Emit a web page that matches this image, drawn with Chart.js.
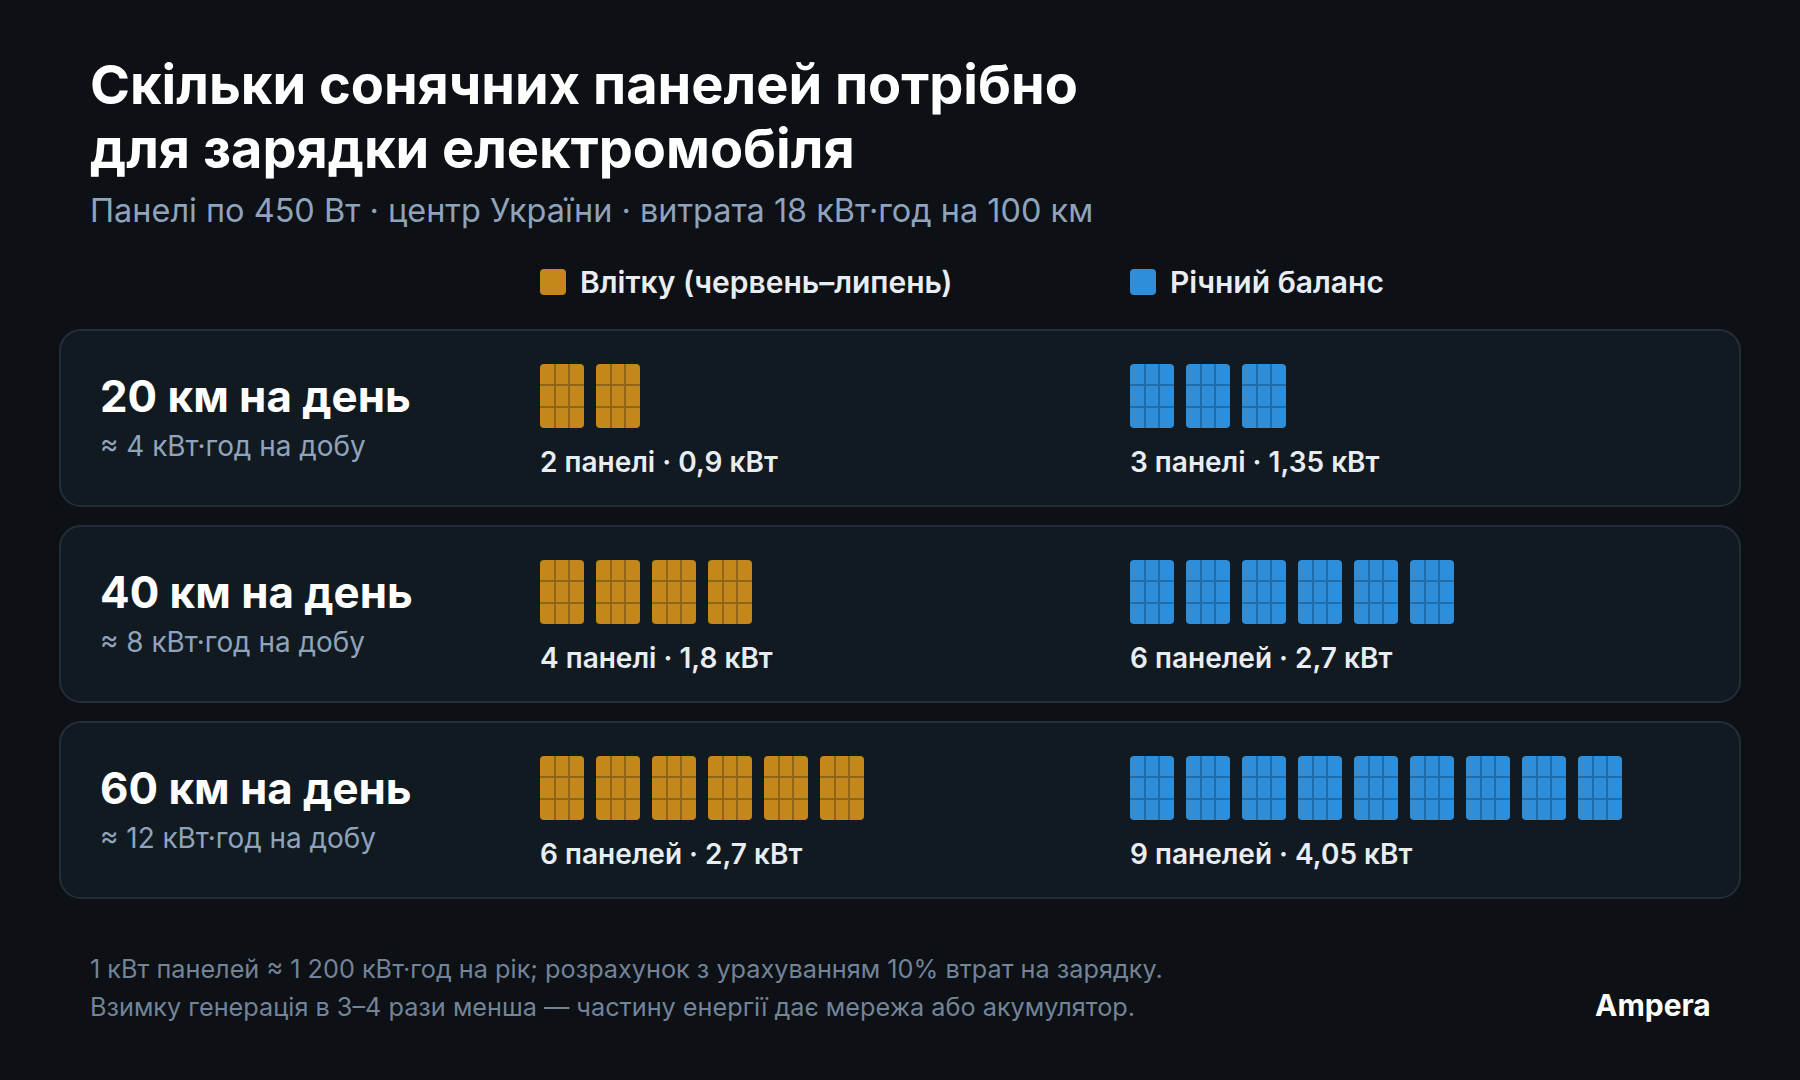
<!DOCTYPE html>
<html lang="uk">
<head>
<meta charset="utf-8">
<title>Сонячні панелі для електромобіля</title>
<script src="https://cdn.jsdelivr.net/npm/chart.js@4"></script>
<style>
  html, body { margin: 0; padding: 0; background: #0d1014; }
  body { width: 1800px; height: 1080px; position: relative; overflow: hidden; font-family: Inter, "Noto Sans", sans-serif; }
  .abs { position: absolute; white-space: nowrap; }
  #title { left: 90px; top: 53px; font-size: 54.12px; line-height: 64px; font-weight: 700; color: #fff; }
  #subtitle { left: 90px; top: 191px; font-size: 32.45px; line-height: 40px; color: #8fa3bc; }
  .legend { top: 264px; font-size: 30px; line-height: 36px; font-weight: 600; color: #e8edf3; }
  .swatch { position: absolute; left: 0; top: 5px; width: 26px; height: 26px; border-radius: 4px; }
  .legend span.name { margin-left: 40px; }
  .card { position: absolute; left: 59px; width: 1682px; height: 178px; box-sizing: border-box; background: #111a21; border: 2px solid #232e39; border-radius: 22px; }
  .rowTitle { left: 100px; font-size: 43.85px; line-height: 54px; font-weight: 700; color: #fff; }
  .rowSub { left: 100px; font-size: 27.9px; line-height: 36px; color: #8fa3bc; }
  .caption { font-size: 28px; line-height: 36px; font-weight: 600; color: #e8edf3; }
  #note { left: 90px; top: 950px; font-size: 25.25px; line-height: 38px; color: #728499; }
  #brand { left: 1595px; top: 986px; font-size: 30px; line-height: 38px; font-weight: 700; color: #fff; }
  #panels { position: absolute; left: 0; top: 0; pointer-events: none; }
</style>
</head>
<body>
<div id="title" class="abs">Скільки сонячних панелей потрібно<br>для зарядки електромобіля</div>
<div id="subtitle" class="abs">Панелі по 450 Вт · центр України · витрата 18 кВт·год на 100 км</div>
<div id="rows"></div>
<div id="note" class="abs">1 кВт панелей ≈ 1 200 кВт·год на рік; розрахунок з урахуванням 10% втрат на зарядку.<br>Взимку генерація в 3–4 рази менша — частину енергії дає мережа або акумулятор.</div>
<div id="brand" class="abs">Ampera</div>
<canvas id="panels" width="1800" height="1080"></canvas>
<script>
// Data
const distances = ['20 км на день', '40 км на день', '60 км на день'];
const energy = ['≈ 4 кВт·год на добу', '≈ 8 кВт·год на добу', '≈ 12 кВт·год на добу'];
const seriesNames = ['Влітку (червень–липень)', 'Річний баланс'];
const summerPanels = [2, 4, 6];
const yearPanels = [3, 6, 9];
const summerWords = ['панелі', 'панелі', 'панелей'];
const yearWords = ['панелі', 'панелей', 'панелей'];
const summerKw = ['0,9', '1,8', '2,7'];
const yearKw = ['1,35', '2,7', '4,05'];

// Layout
const W = 1800, H = 1080;
const SLOT = 56;              // panel + gap
const ROW = 196;              // card + gap
const PANEL_W = 44, PANEL_H = 64;
const SUMMER_X = 562, YEAR_X = 1152, ROW0_Y = 396;  // centre of the first panel
const COLORS = {
    summer: { fill: '#c4871c', line: '#8f6517' },
    year: { fill: '#2f8ed9', line: '#1f6dab' }
};

const rowsEl = document.getElementById('rows');

function addText(cls, text, left, top) {
    const el = document.createElement('div');
    el.className = 'abs ' + cls;
    el.textContent = text;
    if (left !== null) el.style.left = left + 'px';
    el.style.top = top + 'px';
    rowsEl.appendChild(el);
    return el;
}

// Legend
[[SUMMER_X - PANEL_W / 2, COLORS.summer.fill], [YEAR_X - PANEL_W / 2, COLORS.year.fill]].forEach(([x, color], i) => {
    const el = document.createElement('div');
    el.className = 'abs legend';
    el.style.left = x + 'px';
    el.innerHTML = `<div class="swatch" style="background:${color}"></div><span class="name">${seriesNames[i]}</span>`;
    rowsEl.appendChild(el);
});

// Cards with their text
distances.forEach((label, i) => {
    const top = 329 + i * ROW;
    const card = document.createElement('div');
    card.className = 'card';
    card.style.top = top + 'px';
    rowsEl.appendChild(card);
    addText('rowTitle', label, null, top + 41);
    addText('rowSub', energy[i], null, top + 99);
    addText('caption', `${summerPanels[i]} ${summerWords[i]} · ${summerKw[i]} кВт`, SUMMER_X - PANEL_W / 2, top + 115);
    addText('caption', `${yearPanels[i]} ${yearWords[i]} · ${yearKw[i]} кВт`, YEAR_X - PANEL_W / 2, top + 115);
});

// One solar panel as a point image: 3 x 3 cells
function panelImage(fill, line) {
    const c = document.createElement('canvas');
    c.width = PANEL_W;
    c.height = PANEL_H;
    const g = c.getContext('2d');
    g.beginPath();
    g.roundRect(0, 0, PANEL_W, PANEL_H, 4);
    g.clip();
    g.fillStyle = fill;
    g.fillRect(0, 0, PANEL_W, PANEL_H);
    g.fillStyle = line;
    for (let k = 1; k < 3; k++) {
        g.fillRect(Math.round(PANEL_W * k / 3) - 1, 0, 2, PANEL_H);
        g.fillRect(0, Math.round(PANEL_H * k / 3) - 1, PANEL_W, 2);
    }
    return c;
}

// x = slot number in the row, y = row number
function panelPoints(counts) {
    const pts = [];
    counts.forEach((n, row) => {
        for (let slot = 0; slot < n; slot++) pts.push({ x: slot, y: row });
    });
    return pts;
}

new Chart(document.getElementById('panels'), {
    type: 'scatter',
    data: {
        datasets: [
            {
                label: seriesNames[0],
                data: panelPoints(summerPanels),
                xAxisID: 'xSummer',
                pointStyle: panelImage(COLORS.summer.fill, COLORS.summer.line)
            },
            {
                label: seriesNames[1],
                data: panelPoints(yearPanels),
                xAxisID: 'xYear',
                pointStyle: panelImage(COLORS.year.fill, COLORS.year.line)
            }
        ]
    },
    options: {
        responsive: false,
        devicePixelRatio: 1,
        animation: false,
        events: [],
        layout: { padding: 0, autoPadding: false },
        plugins: {
            legend: { display: false },
            title: { display: false },
            tooltip: { enabled: false }
        },
        scales: {
            xSummer: { type: 'linear', display: false, min: -SUMMER_X / SLOT, max: (W - SUMMER_X) / SLOT },
            xYear: { type: 'linear', display: false, min: -YEAR_X / SLOT, max: (W - YEAR_X) / SLOT },
            y: { type: 'linear', display: false, min: -ROW0_Y / ROW, max: (H - ROW0_Y) / ROW, reverse: true }
        }
    }
});
</script>
</body>
</html>
